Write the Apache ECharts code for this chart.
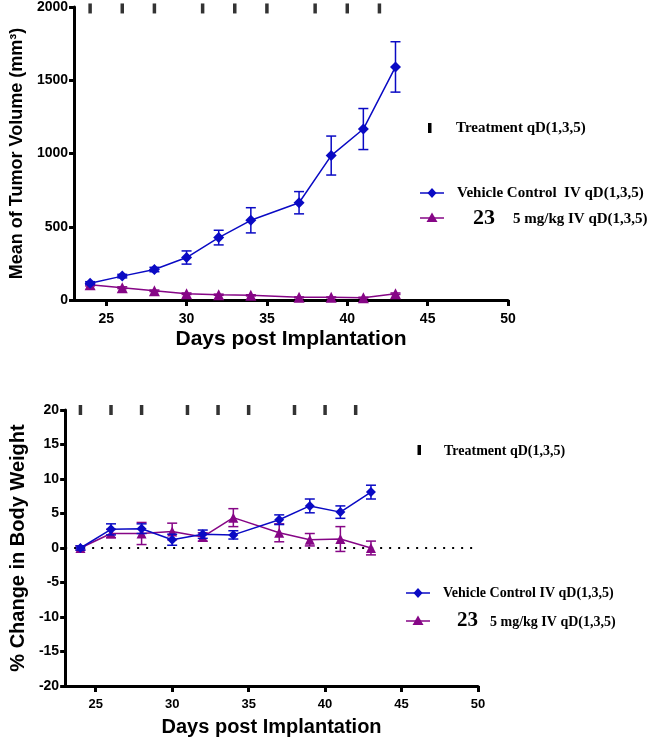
<!DOCTYPE html>
<html>
<head>
<meta charset="utf-8">
<script src="https://cdn.jsdelivr.net/npm/echarts@6/dist/echarts.min.js"></script>
<style>
  html, body { margin: 0; padding: 0; background: #fff; }
  #chart { width: 657px; height: 738px; }
</style>
</head>
<body>
<div id="chart"></div>
<script>
// data
var days = [24, 26, 28, 30, 32, 34, 37, 39, 41, 43];
var treatDays = [24, 26, 28, 31, 33, 35, 38, 40, 42];
var xTicks = [25, 30, 35, 40, 45, 50];

var volVehicle = [115, 163, 208, 290, 426, 544, 664, 986, 1167, 1591];
var volVehicleErr = [10, 12, 15, 45, 50, 86, 76, 133, 140, 172];
var volTreated = [104, 84, 63, 43, 36, 32, 18, 18, 16, 43];
var volTreatedErr = [8, 6, 5, 5, 4, 4, 3, 3, 3, 5];

var bwVehicle = [0, 2.7, 2.8, 1.2, 2.0, 1.9, 4.1, 6.1, 5.2, 8.1];
var bwVehicleErr = [0.3, 0.8, 0.7, 0.8, 0.6, 0.6, 0.7, 1.0, 0.9, 1.0];
var bwTreated = [0, 2.1, 2.1, 2.4, 1.6, 4.4, 2.2, 1.2, 1.3, 0];
var bwTreatedErr = [0.3, 0.6, 1.6, 1.2, 0.6, 1.3, 1.3, 0.9, 1.8, 1.0];

var BLUE = '#0a0ac4';
var PURPLE = '#860686';
var SANS = '"Liberation Sans", Arial, sans-serif';
var SERIF = '"Liberation Serif", "Times New Roman", serif';

function pairs(xs, ys) {
    return xs.map(function (x, i) { return [x, ys[i]]; });
}
function triples(xs, ys, es) {
    return xs.map(function (x, i) { return [x, ys[i], es[i]]; });
}

// error bars with caps
function errBar(params, api) {
    var x = api.value(0), y = api.value(1), e = api.value(2);
    var lo = api.coord([x, y - e]);
    var hi = api.coord([x, y + e]);
    var w = 5;
    var st = { stroke: api.visual('color'), lineWidth: 1.5, fill: null };
    return {
        type: 'group',
        children: [
            { type: 'line', shape: { x1: lo[0], y1: lo[1], x2: hi[0], y2: hi[1] }, style: st },
            { type: 'line', shape: { x1: lo[0] - w, y1: lo[1], x2: lo[0] + w, y2: lo[1] }, style: st },
            { type: 'line', shape: { x1: hi[0] - w, y1: hi[1], x2: hi[0] + w, y2: hi[1] }, style: st }
        ]
    };
}

function xAxisCfg(grid, fs) {
    return {
        gridIndex: grid,
        type: 'value',
        min: 23,
        max: 50,
        name: 'Days post Implantation',
        nameLocation: 'middle',
        nameGap: grid === 0 ? 29 : 31,
        nameTextStyle: { fontFamily: SANS, fontWeight: 'bold', fontSize: grid === 0 ? 21 : 20, color: '#000' },
        axisLine: { onZero: false, lineStyle: { color: '#000', width: 3 } },
        axisTick: { show: true, customValues: xTicks, length: 6, lineStyle: { color: '#000', width: 3 } },
        axisLabel: { customValues: xTicks, fontFamily: SANS, fontWeight: 'bold', fontSize: fs, color: '#000', margin: grid === 0 ? 12 : 12 },
        splitLine: { show: false }
    };
}

function yAxisCfg(grid, min, max, step, name, gap, nfs) {
    return {
        gridIndex: grid,
        type: 'value',
        min: min,
        max: max,
        interval: step,
        name: name,
        nameLocation: 'middle',
        nameGap: gap,
        nameTextStyle: { fontFamily: SANS, fontWeight: 'bold', fontSize: nfs, color: '#000' },
        axisLine: { onZero: false, lineStyle: { color: '#000', width: 3 } },
        axisTick: { show: true, length: 5, lineStyle: { color: '#000', width: 3 } },
        axisLabel: {
            fontFamily: SANS, fontWeight: 'bold', fontSize: 14, color: '#000', margin: 6,
            formatter: function (v) { return String(v); }
        },
        splitLine: { show: false }
    };
}

function legendSym(x, y, color, kind) {
    var items = [{
        type: 'line',
        shape: { x1: x - 12, y1: y, x2: x + 12, y2: y },
        style: { stroke: color, lineWidth: 1.5 }
    }];
    if (kind === 'diamond') {
        items.push({
            type: 'polygon',
            shape: { points: [[x, y - 5], [x + 4.5, y], [x, y + 5], [x - 4.5, y]] },
            style: { fill: color }
        });
    } else {
        items.push({
            type: 'polygon',
            shape: { points: [[x, y - 5.5], [x + 5.5, y + 4], [x - 5.5, y + 4]] },
            style: { fill: color }
        });
    }
    return items;
}

function label(x, y, text, size) {
    return {
        type: 'text', x: x, y: y,
        style: {
            text: text, fontFamily: SERIF, fontWeight: 'bold', fontSize: size,
            fill: '#000', verticalAlign: 'middle', align: 'left'
        }
    };
}

var graphics = []
    .concat([{ type: 'rect', shape: { x: 428, y: 123, width: 3.5, height: 10 }, style: { fill: '#000' } }])
    .concat([label(456, 128, 'Treatment qD(1,3,5)', 15)])
    .concat(legendSym(432, 193, BLUE, 'diamond'))
    .concat([label(457, 193, 'Vehicle Control  IV qD(1,3,5)', 15)])
    .concat(legendSym(432, 218, PURPLE, 'triangle'))
    .concat([label(473, 218, '23', 22), label(513, 219, '5 mg/kg IV qD(1,3,5)', 15)])
    .concat([{ type: 'rect', shape: { x: 417.5, y: 445, width: 3.5, height: 10 }, style: { fill: '#000' } }])
    .concat([label(444, 451, 'Treatment qD(1,3,5)', 14)])
    .concat(legendSym(418, 593, BLUE, 'diamond'))
    .concat([label(443, 593, 'Vehicle Control IV qD(1,3,5)', 14)])
    .concat(legendSym(418, 621, PURPLE, 'triangle'))
    .concat([label(457, 621, '23', 21), label(490, 622, '5 mg/kg IV qD(1,3,5)', 14)]);

var chart = echarts.init(document.getElementById('chart'));
chart.setOption({
    backgroundColor: '#fff',
    animation: false,
    grid: [
        { left: 67, right: 149, top: 6, bottom: 438 },
        { left: 62, right: 179, top: 410, bottom: 52 }
    ],
    xAxis: [xAxisCfg(0, 14), xAxisCfg(1, 13)],
    yAxis: [
        yAxisCfg(0, 0, 2000, 500, 'Mean of Tumor Volume (mm\u00b3)', 44, 18),
        yAxisCfg(1, -20, 20, 5, '% Change in Body Weight', 37, 20)
    ],
    graphic: graphics,
    series: [
        // tumour volume
        {
            type: 'custom', xAxisIndex: 0, yAxisIndex: 0, renderItem: errBar,
            itemStyle: { color: PURPLE }, data: triples(days, volTreated, volTreatedErr), z: 2
        },
        {
            type: 'line', xAxisIndex: 0, yAxisIndex: 0, data: pairs(days, volTreated),
            symbol: 'triangle', symbolSize: 11, color: PURPLE,
            lineStyle: { width: 1.5, color: PURPLE }, itemStyle: { color: PURPLE }, z: 3
        },
        {
            type: 'custom', xAxisIndex: 0, yAxisIndex: 0, renderItem: errBar,
            itemStyle: { color: BLUE }, data: triples(days, volVehicle, volVehicleErr), z: 4
        },
        {
            type: 'line', xAxisIndex: 0, yAxisIndex: 0, data: pairs(days, volVehicle),
            symbol: 'diamond', symbolSize: 11, color: BLUE,
            lineStyle: { width: 1.5, color: BLUE }, itemStyle: { color: BLUE }, z: 5
        },
        {
            type: 'scatter', xAxisIndex: 0, yAxisIndex: 0, clip: false,
            data: treatDays.map(function (d) { return [d, 1990]; }),
            symbol: 'rect', symbolSize: [3.5, 10], itemStyle: { color: '#000' }
        },
        // body weight
        {
            type: 'line', xAxisIndex: 1, yAxisIndex: 1, data: [[23, 0], [50, 0]],
            symbol: 'none', lineStyle: { color: '#000', width: 2, type: [2, 7] }, z: 1
        },
        {
            type: 'custom', xAxisIndex: 1, yAxisIndex: 1, renderItem: errBar,
            itemStyle: { color: PURPLE }, data: triples(days, bwTreated, bwTreatedErr), z: 2
        },
        {
            type: 'line', xAxisIndex: 1, yAxisIndex: 1, data: pairs(days, bwTreated),
            symbol: 'triangle', symbolSize: 10, color: PURPLE,
            lineStyle: { width: 1.5, color: PURPLE }, itemStyle: { color: PURPLE }, z: 3
        },
        {
            type: 'custom', xAxisIndex: 1, yAxisIndex: 1, renderItem: errBar,
            itemStyle: { color: BLUE }, data: triples(days, bwVehicle, bwVehicleErr), z: 4
        },
        {
            type: 'line', xAxisIndex: 1, yAxisIndex: 1, data: pairs(days, bwVehicle),
            symbol: 'diamond', symbolSize: 10, color: BLUE,
            lineStyle: { width: 1.5, color: BLUE }, itemStyle: { color: BLUE }, z: 5
        },
        {
            type: 'scatter', xAxisIndex: 1, yAxisIndex: 1, clip: false,
            data: treatDays.map(function (d) { return [d, 20]; }),
            symbol: 'rect', symbolSize: [3.5, 10], itemStyle: { color: '#000' }
        }
    ]
});
</script>
</body>
</html>
